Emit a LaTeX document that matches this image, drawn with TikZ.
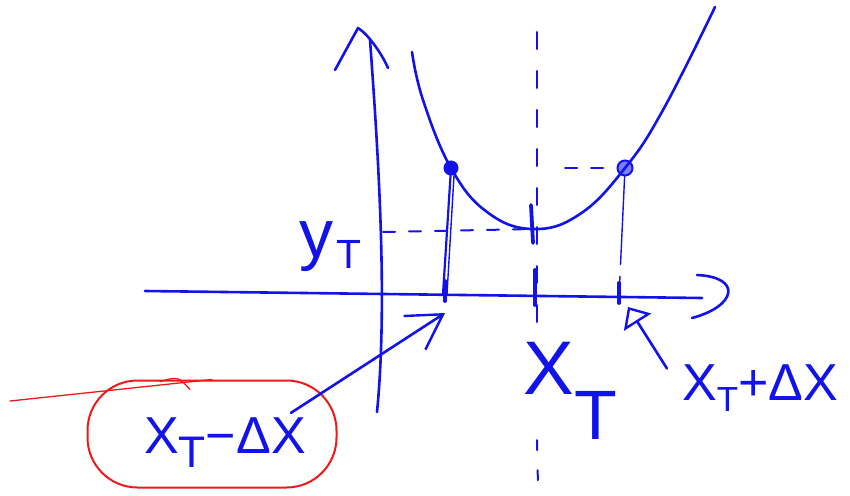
\documentclass[tikz,border=0pt]{standalone}
\usepackage{fontspec}
\setmainfont{Liberation Sans}
\usepackage{graphicx}
\usepackage{xcolor}
\usetikzlibrary{arrows.meta,positioning}
\definecolor{inkblue}{RGB}{18,18,235}
\definecolor{inkred}{RGB}{235,25,25}
\newcommand{\lowsub}[3]{\raisebox{#1}{\scalebox{#2}{#3}}}

\begin{document}
\begin{tikzpicture}[
x=1pt, y=-1pt,
ink/.style={draw=inkblue, line width=2.6pt, line cap=round, line join=round},
thinink/.style={draw=inkblue, line width=1.4pt, line cap=round},
dashink/.style={draw=inkblue, line width=2pt, line cap=round, dash pattern=on 12pt off 14pt},
tickmark/.style={draw=inkblue, line width=3.8pt, line cap=round},
pointdot/.style={circle, draw=inkblue, fill=inkblue, line width=2pt, inner sep=0pt, minimum size=13pt},
lbl/.style={text=inkblue, inner sep=0pt},
blob/.style={draw=inkred, line width=2pt, rounded corners=50pt, minimum width=249pt, minimum height=107pt},
redpen/.style={draw=inkred, line width=1.3pt, line cap=round},
arr/.style={ink, -{Straight Barb[length=34pt,width=40pt,line width=2.4pt]}},
headtri/.style={ink, -{Triangle[open,length=18pt,width=32pt,line width=2.4pt]}}
]
\useasboundingbox (0,0) rectangle (850,495);

\coordinate (xs) at (145,291);
\coordinate (xe) at (702,298);
\coordinate (ys) at (377,412);
\coordinate (ye) at (370,40);
\coordinate (lo) at (445,296);
\coordinate (mid) at (535,297);
\coordinate (hi) at (619,297);
\coordinate (V) at (533,229);
\coordinate (top) at (537,32);
\coordinate (bot) at (538,487);
\coordinate (yo) at (383,232);
\coordinate (tail) at (10,401);

\node[pointdot] (A) at (451,168) {};
\node[pointdot, fill=inkblue!55, minimum size=15pt] (B) at (625,168) {};
\node[lbl, font=\fontsize{68}{68}\selectfont] (yT) at (330,247) {y\hspace{3pt}\lowsub{-0.15em}{0.6}{T}};
\node[lbl, font=\fontsize{76}{76}\selectfont] (xT) at (570,391) {X\lowsub{-0.6em}{0.92}{T}};
\node[lbl, font=\fontsize{52}{52}\selectfont] (xTp) at (760,388) {X\lowsub{-0.21em}{0.67}{T}+ΔX};
\node[lbl, font=\fontsize{52}{52}\selectfont] (xTm) at (225,443) {X\lowsub{-0.27em}{0.85}{T}−ΔX};
\node[blob] (ring) at (212,434) {};

\draw[ink] (xs) -- (xe);
\draw[ink] ([shift={(-5,-23)}]xe) .. controls +(45,2) and +(45,-12) .. ([shift={(-10,20)}]xe);
\draw[ink] (ys) .. controls (388,300) and (378,150) .. (ye);
\draw[ink] ([shift={(-35,30)}]ye) -- ([shift={(-12,-12)}]ye) .. controls +(10,6) and +(-6,-14) .. ([shift={(18,28)}]ye);

\draw[ink] plot[smooth, tension=0.7] coordinates {(412,52) (423,100) (451,168) (487,212) (533,229) (580,214) (625,168) (663,110) (715,7)};

\draw[thinink, line width=2.2pt] (A) -- ([shift={(-2,-2)}]lo);
\draw[thinink] ([shift={(3,0)}]A.south) -- ([shift={(2,-2)}]lo);
\draw[thinink, dash pattern=on 88pt off 12pt] (B) -- (hi);

\draw[dashink] (yo) -- (V);
\draw[dashink] ([shift={(28,0)}]top |- B) -- (B);
\draw[dashink, dash pattern=on 17pt off 22pt] (top) -- (xT.north -| top);
\draw[dashink, dash pattern=on 10pt off 20pt] (xT.south -| top) -- (bot);

\draw[tickmark] ([shift={(0,-15)}]lo) -- ([shift={(0,5)}]lo);
\draw[tickmark] ([shift={(-2,-24)}]V) -- ([shift={(0,14)}]V);
\draw[tickmark] ([shift={(0,-27)}]mid) -- ([shift={(0,8)}]mid);
\draw[tickmark] ([shift={(0,-14)}]hi) -- ([shift={(0,6)}]hi);

\draw[arr] ([shift={(-15,-5)}]xTm.north east) -- ([shift={(0,17)}]lo);
\draw[headtri] ([shift={(-15,4)}]xTp.north west) -- ([shift={(9,10)}]hi);

\draw[redpen] (tail) -- (ring.north);
\draw[redpen] ([shift={(-52,2)}]ring.north) .. controls +(18,-5) .. +(30,8);
\end{tikzpicture}
\end{document}
